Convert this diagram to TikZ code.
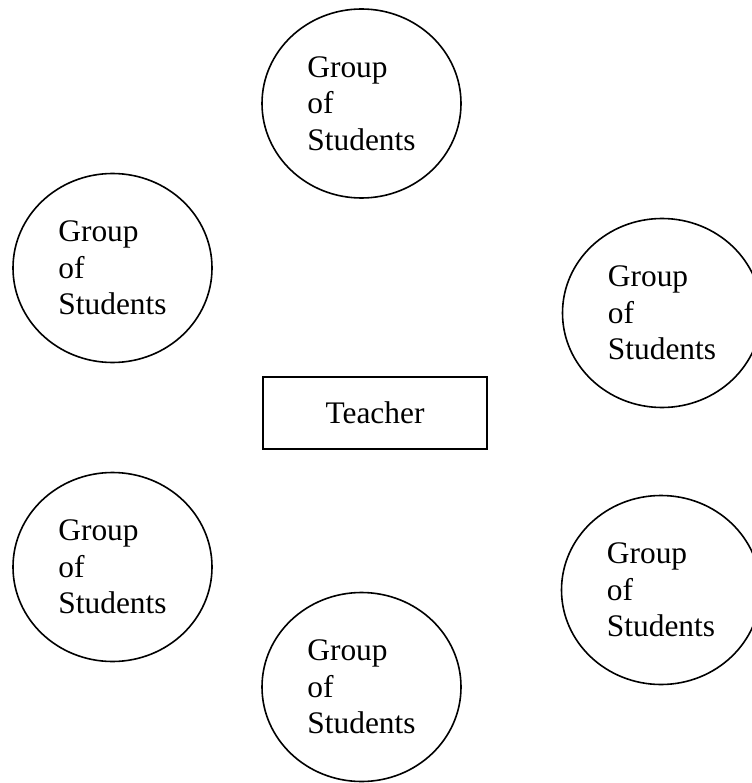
\documentclass[tikz,border=0pt]{standalone}
\usepackage{fontspec}
\setmainfont{Liberation Serif}
\usetikzlibrary{shapes.geometric}
\begin{document}
\begin{tikzpicture}[x=1pt,y=-1pt,
  grp/.style={draw, ellipse, line width=1.6pt, minimum width=199pt, minimum height=189pt,
    inner sep=0pt, align=left, font=\fontsize{31.4}{36.5}\selectfont},
  tbox/.style={draw, rectangle, line width=2pt, minimum width=224pt, minimum height=72pt,
    inner sep=0pt, font=\fontsize{31.4}{36.5}\selectfont}]
\useasboundingbox (0,0) rectangle (751,783);
\node[grp] (top) at (361.5,103.5) {Group\\of\\Students};
\node[grp] (ul) at (112.5,268) {Group\\of\\Students};
\node[grp] (ur) at (662,313) {Group\\of\\Students};
\node[grp] (ll) at (112.5,567) {Group\\of\\Students};
\node[grp] (lr) at (661,590) {Group\\of\\Students};
\node[grp] (bot) at (361.5,687) {Group\\of\\Students};
\node[tbox] (teacher) at (375,413) {Teacher};
\end{tikzpicture}
\end{document}
